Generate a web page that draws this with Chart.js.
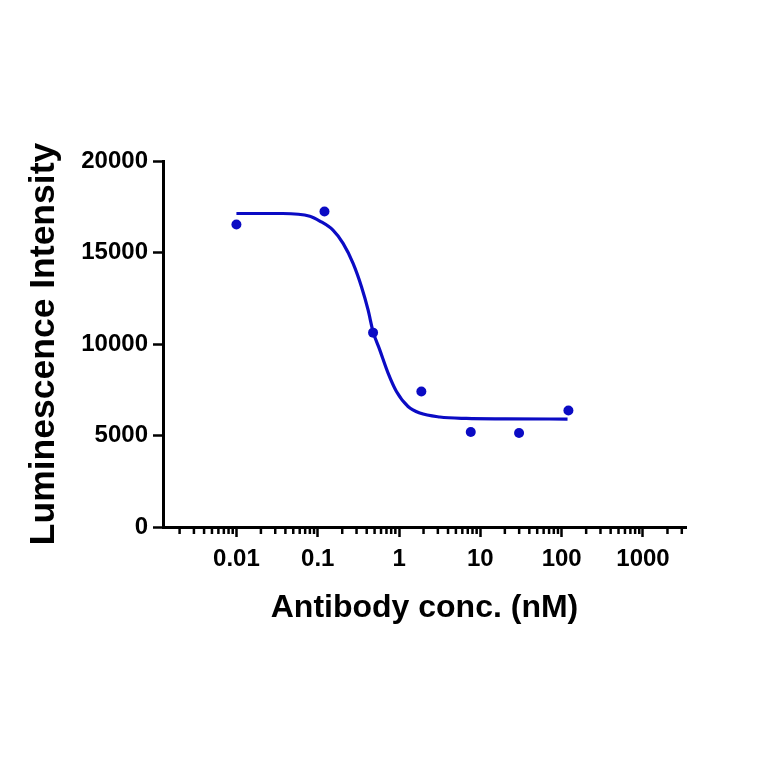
<!DOCTYPE html>
<html>
<head>
<meta charset="utf-8">
<script src="https://cdn.jsdelivr.net/npm/chart.js@4.4.0/dist/chart.umd.min.js"></script>
<style>
  html, body { margin: 0; padding: 0; background: #fff; }
  canvas { display: block; }
</style>
</head>
<body>
<canvas id="myChart" width="764" height="764"></canvas>
<script>
// measured points
var conc = [0.01, 0.121, 0.479, 1.88, 7.62, 29.9, 121];
var signal = [16530, 17240, 10620, 7405, 5190, 5136, 6370];

// fitted curve
var fitConc = [0.01, 0.037, 0.08, 0.106, 0.154, 0.205, 0.272, 0.345, 0.416, 0.479, 0.579, 0.733, 0.929, 1.29, 1.80, 3.17, 6.74, 20, 118];
var fitSignal = [17130, 17130, 16980, 16720, 16221, 15496, 14406, 13130, 11859, 10676, 9678, 8408, 7405, 6587, 6227, 6009, 5932, 5910, 5900];

var xTicks = [0.01, 0.1, 1, 10, 100, 1000];
var yTicks = [0, 5000, 10000, 15000, 20000];

var blue = '#0b0bc4';
var fontFamily = '"Liberation Sans", Arial, Helvetica, sans-serif';

function toXY(xs, ys) {
    var out = [];
    for (var i = 0; i < xs.length; i++) {
        out.push({x: xs[i], y: ys[i]});
    }
    return out;
}

// short ticks between the decades
var minorTicks = {
    id: 'minorTicks',
    afterDraw: function (chart) {
        var scale = chart.scales.x;
        var ctx = chart.ctx;
        ctx.save();
        ctx.strokeStyle = '#000';
        ctx.lineWidth = 2.5;
        for (var k = -3; k <= 3; k++) {
            for (var m = 2; m <= 9; m++) {
                var v = m * Math.pow(10, k);
                if (v < scale.min || v > scale.max) continue;
                var px = scale.getPixelForValue(v);
                ctx.beginPath();
                ctx.moveTo(px, scale.top);
                ctx.lineTo(px, scale.top + 7);
                ctx.stroke();
            }
        }
        ctx.restore();
    }
};

var ctx = document.getElementById('myChart');
var myChart = new Chart(ctx, {
    type: 'scatter',
    data: {
        datasets: [
            {
                label: 'Fit',
                type: 'line',
                data: toXY(fitConc, fitSignal),
                borderColor: blue,
                borderWidth: 3.2,
                pointRadius: 0,
                fill: false,
                cubicInterpolationMode: 'monotone'
            },
            {
                label: 'Data',
                data: toXY(conc, signal),
                backgroundColor: blue,
                borderWidth: 0,
                pointRadius: 5
            }
        ]
    },
    options: {
        responsive: false,
        animation: false,
        devicePixelRatio: 1,
        layout: {padding: {top: 161, right: 78, bottom: 0, left: 0}},
        plugins: {
            legend: {display: false},
            tooltip: {enabled: false}
        },
        scales: {
            x: {
                type: 'logarithmic',
                min: 0.00125,
                max: 3380,
                afterBuildTicks: function (scale) {
                    scale.ticks = xTicks.map(function (v) { return {value: v}; });
                },
                afterFit: function (scale) { scale.height = 237; },
                border: {color: '#000', width: 3},
                grid: {drawOnChartArea: false, tickLength: 10, tickWidth: 2.5, tickColor: '#000'},
                ticks: {
                    color: '#000',
                    padding: 8,
                    maxRotation: 0,
                    autoSkip: false,
                    font: {family: fontFamily, size: 24, weight: 'bold'},
                    callback: function (v) { return String(v); }
                },
                title: {
                    display: true,
                    text: 'Antibody conc. (nM)',
                    color: '#000',
                    font: {family: fontFamily, size: 32, weight: 'bold'},
                    padding: {top: 0, bottom: 137}
                }
            },
            y: {
                min: 0,
                max: 20000,
                afterBuildTicks: function (scale) {
                    scale.ticks = yTicks.map(function (v) { return {value: v}; });
                },
                afterFit: function (scale) { scale.width = 163; },
                border: {color: '#000', width: 3},
                grid: {drawOnChartArea: false, tickLength: 10, tickWidth: 2.5, tickColor: '#000'},
                ticks: {
                    color: '#000',
                    padding: 5,
                    font: {family: fontFamily, size: 24, weight: 'bold'},
                    callback: function (v) { return String(v); }
                },
                title: {
                    display: true,
                    text: 'Luminescence Intensity',
                    color: '#000',
                    font: {family: fontFamily, size: 35.5, weight: 'bold'},
                    padding: {top: 23, bottom: 0}
                }
            }
        }
    },
    plugins: [minorTicks]
});
</script>
</body>
</html>
